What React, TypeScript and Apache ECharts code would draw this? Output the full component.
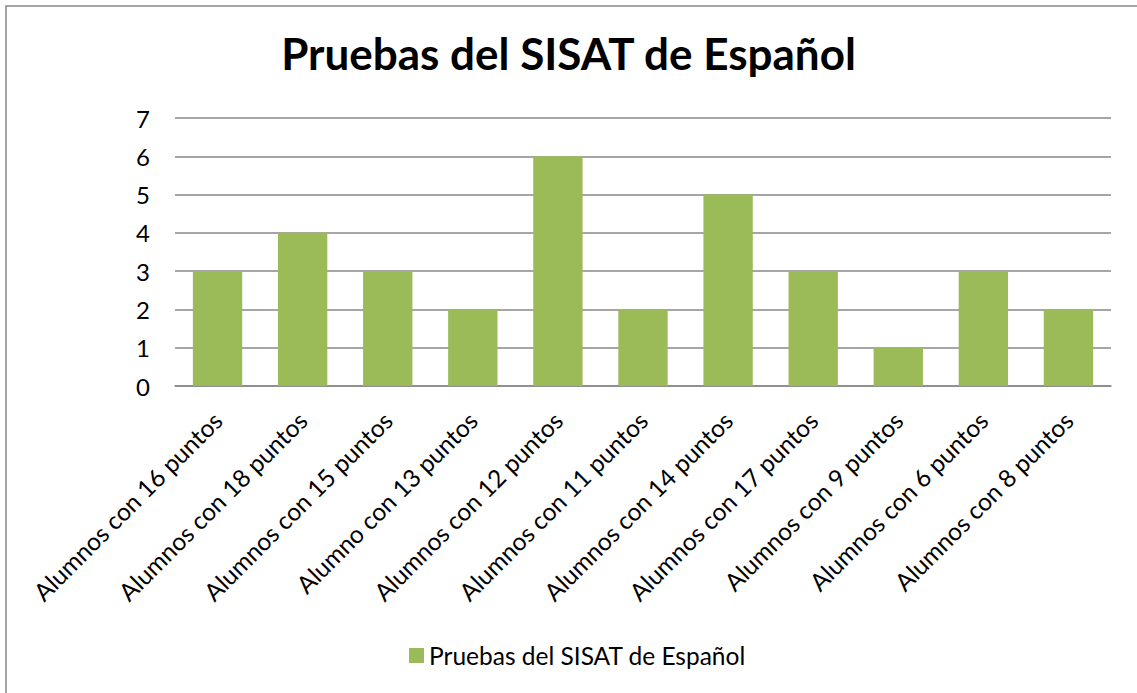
import React, { useEffect, useRef } from "react";
import * as echarts from "echarts";

const TITLE = "Pruebas del SISAT de Español";
const SERIES_NAME = "Pruebas del SISAT de Español";
const categories = [
  "Alumnos con 16 puntos",
  "Alumnos con 18 puntos",
  "Alumnos con 15 puntos",
  "Alumno con 13 puntos",
  "Alumnos con 12 puntos",
  "Alumnos con 11 puntos",
  "Alumnos con 14 puntos",
  "Alumnos con 17 puntos",
  "Alumnos con 9 puntos",
  "Alumnos con 6 puntos",
  "Alumnos con 8 puntos",
];
const values = [3, 4, 3, 2, 6, 2, 5, 3, 1, 3, 2];

const FONT = "Lato, 'Open Sans', sans-serif";

export default function App() {
  const ref = useRef<HTMLDivElement>(null);
  useEffect(() => {
    document.body.style.margin = "0";
    const chart = echarts.init(ref.current!, undefined, { renderer: "svg" });
    chart.setOption({
      animation: false,
      backgroundColor: "#ffffff",
      textStyle: { fontFamily: FONT },
      title: {
        text: TITLE,
        left: "center",
        top: 26,
        textStyle: { fontSize: 44, fontWeight: "bold", color: "#000", fontFamily: FONT },
      },
      graphic: [
        {
          type: "rect",
          shape: { x: 6, y: 6, width: 1150, height: 710 },
          style: { fill: "none", stroke: "#888888", lineWidth: 1.5 },
          silent: true,
        },
      ],
      legend: {
        bottom: 20,
        left: 404,
        itemWidth: 15,
        itemHeight: 15,
        icon: "rect",
        itemGap: 8,
        textStyle: { fontSize: 24.5, color: "#000", fontFamily: FONT, padding: [0, 0, 0, 0] },
        data: [SERIES_NAME],
      },
      grid: { left: 175, right: 26, top: 118, bottom: 307, containLabel: false },
      xAxis: {
        type: "category",
        data: categories,
        axisLine: { show: true, lineStyle: { color: "#888888", width: 1.5 } },
        axisTick: { show: false },
        axisLabel: {
          rotate: 45,
          interval: 0,
          fontSize: 24.5,
          color: "#000",
          margin: 30,
          fontFamily: FONT,
        },
      },
      yAxis: {
        type: "value",
        min: 0,
        max: 7,
        interval: 1,
        axisLine: { show: false },
        axisTick: { show: false },
        axisLabel: { fontSize: 24, color: "#000", margin: 25, fontFamily: FONT },
        splitLine: { lineStyle: { color: "#888888", width: 1.5 } },
      },
      series: [
        {
          name: SERIES_NAME,
          type: "bar",
          data: values,
          barCategoryGap: "42%",
          itemStyle: { color: "#9BBB59" },
        },
      ],
    });
    return () => chart.dispose();
  }, []);
  return <div ref={ref} style={{ width: 1137, height: 693, position: "absolute", left: 0, top: 0 }} />;
}
